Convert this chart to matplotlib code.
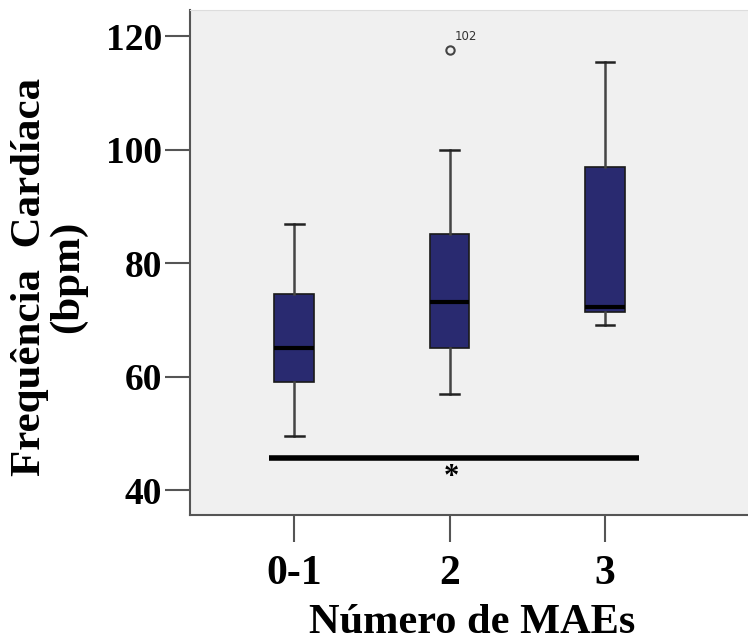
import matplotlib
matplotlib.use("Agg")
import matplotlib.pyplot as plt

categories = ["0-1", "2", "3"]
whislo = [49.5, 57.0, 69.0]
q1 = [59.0, 65.1, 71.3]
med = [65.1, 73.1, 72.2]
q3 = [74.5, 85.1, 96.9]
whishi = [86.9, 100.0, 115.4]
outliers = [[], [117.6], []]
outlier_labels = ["", "102", ""]
yticks = [40, 60, 80, 100, 120]
sig_value = 45.7
sig_x = [-0.16, 2.22]

serif = ["Liberation Serif", "DejaVu Serif"]

fig = plt.figure(figsize=(7.48, 6.43), dpi=100)
ax = fig.add_axes([190/748, (643-515)/643, 1 - 190/748, (515-10)/643])
ax.set_facecolor("#f0f0f0")

stats = []
for i in range(len(categories)):
    stats.append(dict(whislo=whislo[i], q1=q1[i], med=med[i], q3=q3[i],
                      whishi=whishi[i], fliers=outliers[i], label=categories[i]))

pos = list(range(len(categories)))
ax.bxp(stats, positions=pos, widths=0.253, patch_artist=True, showfliers=True,
       boxprops=dict(facecolor="#292a70", edgecolor="#1a1a1a", linewidth=1.2),
       medianprops=dict(color="black", linewidth=3),
       whiskerprops=dict(color="#444444", linewidth=1.8),
       capprops=dict(color="#222222", linewidth=1.8),
       capwidths=0.122,
       flierprops=dict(marker="o", markersize=6, markerfacecolor="none",
                       markeredgecolor="#444444", markeredgewidth=1.5))

for i, lab in enumerate(outlier_labels):
    if lab:
        ax.text(pos[i] + 0.03, outliers[i][0] + 1.2, lab, fontsize=8.5,
                color="#333333", ha="left", va="bottom", family="DejaVu Sans")

ax.plot(sig_x, [sig_value, sig_value], color="black", linewidth=4, solid_capstyle="butt")
ax.text((sig_x[0] + sig_x[1]) / 2 - 0.02, sig_value - 1.0, "*", fontsize=22,
        fontweight="bold", ha="center", va="top", family=serif)

ax.set_xlim(-0.67, 2.92)
ax.set_ylim(35.6, 124.6)
ax.set_yticks(yticks)
ax.set_yticklabels([str(v) for v in yticks])
ax.set_xticks(pos)
ax.set_xticklabels(categories)

for lab in ax.get_yticklabels():
    lab.set_fontfamily(serif); lab.set_fontweight("bold"); lab.set_fontsize(27)
for lab in ax.get_xticklabels():
    lab.set_fontfamily(serif); lab.set_fontweight("bold"); lab.set_fontsize(30)

ax.tick_params(axis="y", length=18, width=1.5, color="#555555", pad=2)
ax.tick_params(axis="x", length=19.5, width=1.5, color="#555555", pad=9)

for s in ["left", "bottom"]:
    ax.spines[s].set_color("#555555")
    ax.spines[s].set_linewidth(1.5)
ax.spines["top"].set_color("#dddddd")
ax.spines["right"].set_visible(False)

fig.text(472/748, 1 - 623/643, "Número de MAEs", ha="center", va="center",
         fontsize=30.5, fontweight="bold", family=serif)
fig.text(49/748, 1 - 277/643, "Frequência  Cardíaca\n(bpm)", ha="center", va="center",
         rotation=90, fontsize=31, fontweight="bold", family=serif, linespacing=0.96)

fig.savefig("out.png", dpi=100)
